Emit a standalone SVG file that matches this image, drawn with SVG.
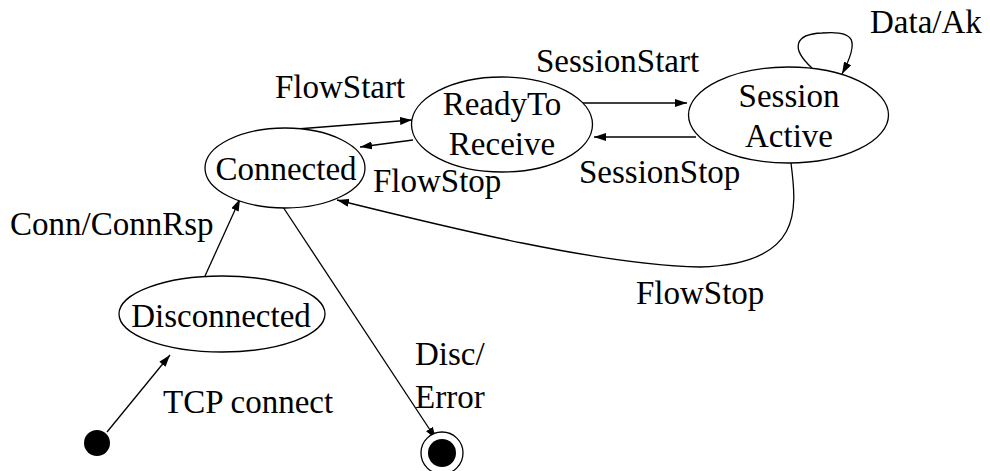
<svg xmlns="http://www.w3.org/2000/svg" width="990" height="471" viewBox="0 0 990 471">
<defs>
<marker id="ah" viewBox="0 0 12 8" refX="12" refY="4" markerWidth="12" markerHeight="8" markerUnits="userSpaceOnUse" orient="auto">
<path d="M0,0 L12,4 L0,8 Z" fill="#000"/>
</marker>
</defs>
<style>
.st{fill:#fff;stroke:#000;stroke-width:1.3}
.m{text-anchor:middle}
.e{fill:none;stroke:#000;stroke-width:1.3;marker-end:url(#ah)}
</style>
<rect width="990" height="471" fill="#fff"/>
<g id="connectors">
<path class="e" d="M107,432 L170,355"/>
<path class="e" d="M205,276 L240,199"/>
<path class="e" d="M283,207 L436,439"/>
<path class="e" d="M297,129 L412,120"/>
<path class="e" d="M413,140 L360,147"/>
<path class="e" d="M583,103 L687,103"/>
<path class="e" d="M696,137 L594,137"/>
<path class="e" d="M791,163 C797,210 803,264 700,267 C600,265 450,228 337,200"/>
<path class="e" d="M812,68 C790,48 795,34 822,33 C855,30 860,40 842,74"/>
</g>
<g font-family="Liberation Serif, Times New Roman, serif" font-size="33" fill="#000">
<g id="initial"><circle cx="97" cy="443" r="13" fill="#000"/></g>
<g id="final"><circle cx="442" cy="453" r="21" class="st"/><circle cx="442" cy="453" r="14" fill="#000"/></g>
<g id="disconnected"><ellipse class="st" cx="222" cy="314" rx="103" ry="38"/><text class="m" x="221" y="327">Disconnected</text></g>
<g id="connected"><ellipse class="st" cx="285" cy="168" rx="80" ry="40"/><text class="m" x="286" y="180">Connected</text></g>
<g id="readytoreceive"><ellipse class="st" cx="502" cy="124.5" rx="90.5" ry="47.5"/><text class="m" x="502" y="115">ReadyTo</text><text class="m" x="502" y="155">Receive</text></g>
<g id="sessionactive"><ellipse class="st" cx="788.5" cy="115" rx="100" ry="48"/><text class="m" x="789" y="107">Session</text><text class="m" x="789" y="147">Active</text></g>
<g id="labels">
<text x="275" y="98">FlowStart</text>
<text x="373" y="192">FlowStop</text>
<text x="536" y="72">SessionStart</text>
<text x="579" y="183">SessionStop</text>
<text x="870" y="33">Data/Ak</text>
<text x="636" y="304">FlowStop</text>
<text x="10" y="235">Conn/ConnRsp</text>
<text x="163" y="413">TCP connect</text>
<text x="415" y="365">Disc/</text>
<text x="415" y="408">Error</text>
</g>
</g>
</svg>
